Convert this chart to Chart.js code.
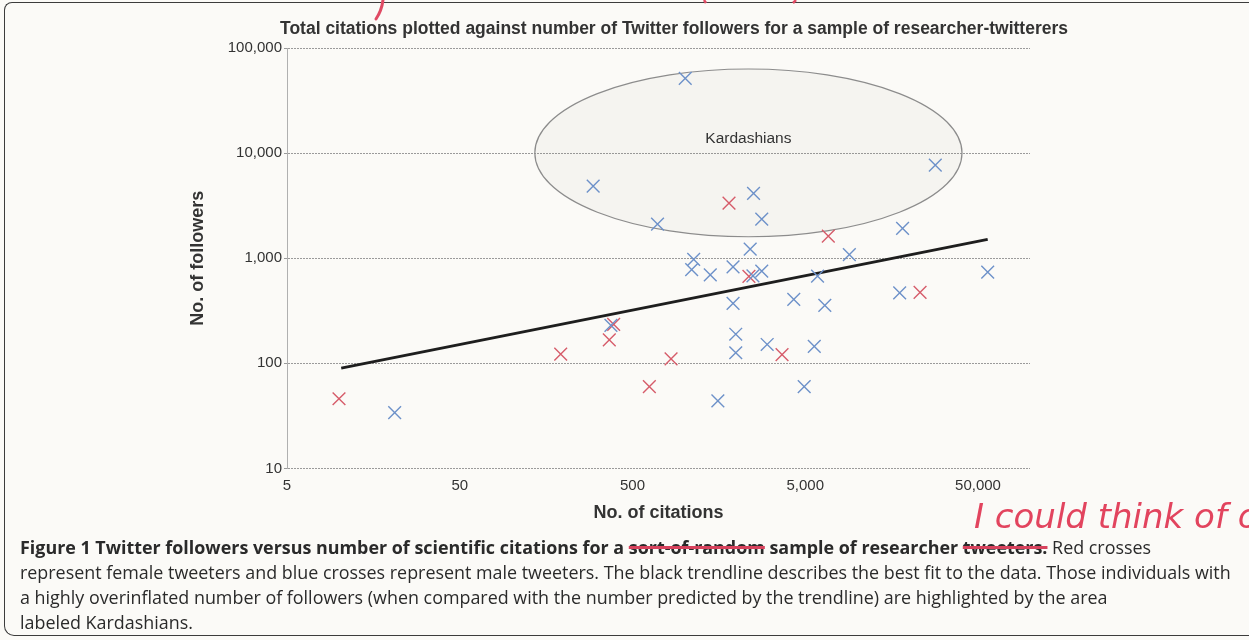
<!DOCTYPE html>
<html>
<head>
<meta charset="utf-8">
<script src="https://cdn.jsdelivr.net/npm/chart.js@4.4.1/dist/chart.umd.min.js"></script>
<style>
  html, body { margin: 0; padding: 0; }
  body { width: 1249px; height: 640px; overflow: hidden; background: #fbfaf7; position: relative; font-family: "Liberation Sans", Arial, sans-serif; }
  #frame { position: absolute; left: 4px; top: 2px; width: 1260px; height: 632px; border: 1.5px solid #3c3c3c; border-right: none; border-radius: 8px 0 0 10px; }
  #chartWrap { position: absolute; left: 0; top: 0; }
  #caption { position: absolute; left: 20px; top: 535px; width: 1225px; font-family: "Open Sans", Lato, sans-serif; font-size: 17.9px; line-height: 25px; color: #2a2a2a; white-space: nowrap; }
  #caption b { font-weight: 700; }
  .strike { text-decoration: line-through; text-decoration-color: #d8425d; text-decoration-thickness: 3px; }
  #scribble { position: absolute; left: 974px; top: 496px; font-family: "DejaVu Sans", sans-serif; font-style: italic; font-size: 34px; color: #e2445e; white-space: nowrap; }
  #mark { position: absolute; left: 0; top: 0; }
</style>
</head>
<body>
<div id="frame"></div>
<svg id="mark" width="1249" height="30"><path d="M383 0 C 382 8, 380 13, 376 19" stroke="#e04a64" stroke-width="3" fill="none" stroke-linecap="round"/><path d="M704 0 L706 3 M796 0 L793 3" stroke="#e04a64" stroke-width="2.5" fill="none"/></svg>
<div id="chartWrap"><canvas id="scatter" width="1249" height="531"></canvas></div>
<div id="scribble">I could think of o</div>
<div id="caption"><b>Figure 1 Twitter followers versus number of scientific citations for a <span class="strike">sort-of-random</span> sample of researcher <span class="strike">tweeters.</span></b> Red crosses<br>represent female tweeters and blue crosses represent male tweeters. The black trendline describes the best fit to the data. Those individuals with<br>a highly overinflated number of followers (when compared with the number predicted by the trendline) are highlighted by the area<br>labeled Kardashians.</div>

<script>
// values
const femaleCitations = [10, 192, 367, 389, 626, 836, 1810, 2360, 3670, 6800, 23100];
const femaleFollowers = [46, 122, 167, 235, 60, 110, 3340, 670, 121, 1620, 474];

const maleCitations = [21, 296, 1010, 698, 375, 1100, 1130, 1410, 1910, 1910, 1980, 1980, 1560, 2400,
  2510, 2800, 2490, 2800, 3010, 4290, 4930, 5640, 5890, 6490, 9000, 17600, 18300, 28300, 56900];
const maleFollowers = [34, 4850, 51400, 2110, 229, 780, 975, 693, 826, 371, 189, 126, 44, 1220,
  4130, 2350, 680, 752, 151, 405, 60, 145, 674, 355, 1080, 468, 1920, 7690, 736];

const trendCitations = [10.3, 56900];
const trendFollowers = [90, 1510];

// the "Kardashians" area, in data units
const kardashianCitations = [136, 40400];
const kardashianFollowers = [1600, 63100];
const kardashianLabelAt = 13600;

const xTicks = [5, 50, 500, 5000, 50000];
const yTicks = [10, 100, 1000, 10000, 100000];

const toPoints = (xs, ys) => xs.map((v, i) => ({ x: v, y: ys[i] }));
const fmt = v => Number(v).toLocaleString('en-US');
const FONT = '"Liberation Sans", Arial, sans-serif';

const kardashianPlugin = {
  id: 'kardashians',
  beforeDatasetsDraw(chart) {
    const { ctx, scales: { x, y } } = chart;
    const left = x.getPixelForValue(kardashianCitations[0]);
    const right = x.getPixelForValue(kardashianCitations[1]);
    const bottom = y.getPixelForValue(kardashianFollowers[0]);
    const top = y.getPixelForValue(kardashianFollowers[1]);
    const cx = (left + right) / 2;
    ctx.save();
    ctx.beginPath();
    ctx.ellipse(cx, (top + bottom) / 2, (right - left) / 2, (bottom - top) / 2, 0, 0, Math.PI * 2);
    ctx.fillStyle = 'rgba(110,110,100,0.045)';
    ctx.fill();
    ctx.strokeStyle = '#8c8c8c';
    ctx.lineWidth = 1.2;
    ctx.stroke();
    ctx.fillStyle = '#333';
    ctx.font = '15.5px ' + FONT;
    ctx.textAlign = 'center';
    ctx.textBaseline = 'middle';
    ctx.fillText('Kardashians', cx, y.getPixelForValue(kardashianLabelAt));
    ctx.restore();
  }
};

const ctx = document.getElementById('scatter').getContext('2d');
new Chart(ctx, {
  type: 'scatter',
  data: {
    datasets: [
      {
        label: 'Trendline',
        type: 'line',
        data: toPoints(trendCitations, trendFollowers),
        borderColor: '#1e1e1e',
        borderWidth: 3,
        pointRadius: 0,
        fill: false,
        order: 2
      },
      {
        label: 'Female',
        data: toPoints(femaleCitations, femaleFollowers),
        pointStyle: 'crossRot',
        pointRadius: 9,
        pointHoverRadius: 9,
        borderColor: '#d65c6a',
        borderWidth: 1.4,
        order: 1
      },
      {
        label: 'Male',
        data: toPoints(maleCitations, maleFollowers),
        pointStyle: 'crossRot',
        pointRadius: 9,
        pointHoverRadius: 9,
        borderColor: '#6d91c9',
        borderWidth: 1.4,
        order: 0
      }
    ]
  },
  options: {
    responsive: false,
    animation: false,
    layout: { padding: { left: 186, right: 87, top: 8, bottom: 7 } },
    plugins: {
      legend: { display: false },
      tooltip: { enabled: false },
      title: {
        display: true,
        text: 'Total citations plotted against number of Twitter followers for a sample of researcher-twitterers',
        color: '#333',
        font: { family: FONT, size: 17.5, weight: 'bold' },
        padding: { top: 10.5, bottom: 8.5 }
      }
    },
    scales: {
      x: {
        type: 'logarithmic',
        min: 5,
        max: 100000,
        afterBuildTicks: s => { s.ticks = xTicks.map(v => ({ value: v })); },
        grid: { display: false, drawTicks: false },
        border: { display: false },
        ticks: {
          autoSkip: false,
          maxRotation: 0,
          padding: 8,
          color: '#333',
          font: { family: FONT, size: 15 },
          callback: v => fmt(v)
        },
        title: {
          display: true,
          text: 'No. of citations',
          color: '#333',
          font: { family: FONT, size: 18, weight: 'bold' },
          padding: { top: 0, bottom: 0 }
        }
      },
      y: {
        type: 'logarithmic',
        min: 10,
        max: 100000,
        afterBuildTicks: s => { s.ticks = yTicks.map(v => ({ value: v })); },
        afterFit: s => { s.width = 101; },
        grid: { color: '#9a9a9a', lineWidth: 1, drawTicks: true, tickLength: 3 },
        border: { display: true, color: '#b0b0b0', width: 1, dash: [2, 1] },
        ticks: {
          autoSkip: false,
          padding: 2,
          color: '#333',
          font: { family: FONT, size: 15 },
          callback: v => fmt(v)
        },
        title: {
          display: true,
          text: 'No. of followers',
          color: '#333',
          font: { family: FONT, size: 18, weight: 'bold' },
          padding: { top: 1, bottom: 0 }
        }
      },
      pad: {
        type: 'linear',
        position: 'right',
        display: true,
        grid: { display: false },
        border: { display: false },
        ticks: { display: false },
        afterFit: s => { s.width = 132; }
      }
    }
  },
  plugins: [kardashianPlugin]
});
</script>
</body>
</html>
